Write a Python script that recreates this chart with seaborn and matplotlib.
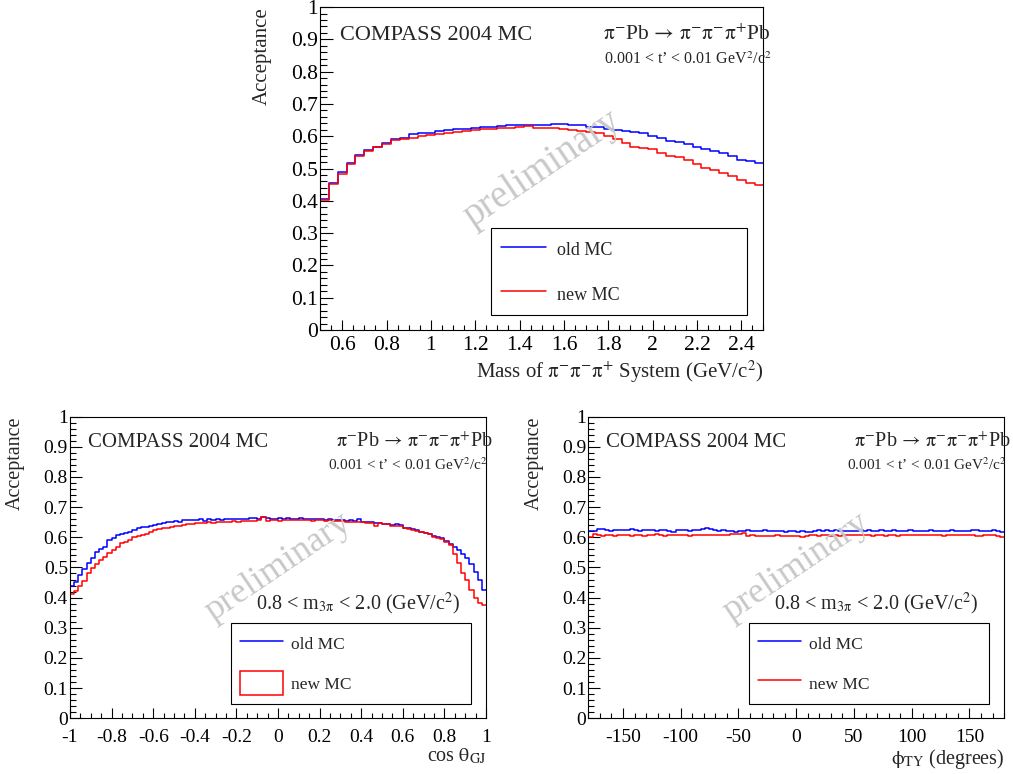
import numpy as np
import pandas as pd
import matplotlib
matplotlib.use("Agg")
import matplotlib.pyplot as plt
import seaborn as sns
from matplotlib.ticker import MultipleLocator, FuncFormatter
from matplotlib.lines import Line2D
from matplotlib.patches import Patch

# ---- data (acceptance per bin) ----
mass_edges = np.linspace(0.5, 2.5, 51)
mass_old = [0.406, 0.456, 0.490, 0.518, 0.542, 0.557, 0.568, 0.578, 0.592, 0.595,
            0.606, 0.609, 0.610, 0.615, 0.618, 0.621, 0.623, 0.627, 0.630, 0.630,
            0.632, 0.634, 0.634, 0.635, 0.635, 0.636, 0.637, 0.637, 0.636, 0.634,
            0.630, 0.630, 0.621, 0.619, 0.616, 0.612, 0.609, 0.601, 0.596, 0.586,
            0.583, 0.576, 0.568, 0.560, 0.555, 0.547, 0.540, 0.526, 0.523, 0.516]
mass_new = [0.403, 0.451, 0.483, 0.514, 0.540, 0.554, 0.567, 0.577, 0.588, 0.591,
            0.596, 0.601, 0.604, 0.607, 0.610, 0.613, 0.615, 0.618, 0.621, 0.623,
            0.625, 0.627, 0.630, 0.632, 0.627, 0.627, 0.625, 0.623, 0.619, 0.616,
            0.612, 0.609, 0.601, 0.590, 0.580, 0.568, 0.564, 0.559, 0.547, 0.539,
            0.535, 0.526, 0.514, 0.501, 0.495, 0.487, 0.477, 0.466, 0.456, 0.449]

cos_edges = np.linspace(-1.0, 1.0, 101)
cos_old = [0.439, 0.451, 0.475, 0.495, 0.516, 0.533, 0.552, 0.560, 0.569, 0.591,
           0.597, 0.608, 0.610, 0.613, 0.617, 0.624, 0.630, 0.633, 0.633, 0.638,
           0.641, 0.643, 0.646, 0.652, 0.652, 0.654, 0.652, 0.656, 0.657, 0.656,
           0.657, 0.660, 0.655, 0.659, 0.657, 0.660, 0.658, 0.661, 0.660, 0.662,
           0.661, 0.662, 0.660, 0.663, 0.664, 0.662, 0.666, 0.663, 0.662, 0.660,
           0.663, 0.661, 0.665, 0.662, 0.661, 0.663, 0.660, 0.662, 0.661, 0.659,
           0.660, 0.658, 0.659, 0.657, 0.658, 0.656, 0.655, 0.657, 0.655, 0.660,
           0.652, 0.650, 0.650, 0.646, 0.646, 0.644, 0.644, 0.641, 0.645, 0.641,
           0.632, 0.630, 0.628, 0.624, 0.619, 0.615, 0.610, 0.605, 0.600, 0.597,
           0.588, 0.577, 0.569, 0.558, 0.544, 0.530, 0.511, 0.486, 0.459, 0.425]
cos_new = [0.411, 0.422, 0.440, 0.455, 0.481, 0.497, 0.511, 0.525, 0.536, 0.549,
           0.558, 0.569, 0.580, 0.586, 0.591, 0.600, 0.605, 0.608, 0.611, 0.617,
           0.624, 0.627, 0.630, 0.632, 0.635, 0.638, 0.639, 0.641, 0.643, 0.644,
           0.646, 0.648, 0.649, 0.650, 0.648, 0.651, 0.650, 0.652, 0.651, 0.653,
           0.652, 0.654, 0.653, 0.655, 0.654, 0.656, 0.668, 0.655, 0.656, 0.657,
           0.655, 0.657, 0.656, 0.658, 0.657, 0.656, 0.658, 0.657, 0.655, 0.657,
           0.656, 0.654, 0.656, 0.655, 0.653, 0.654, 0.652, 0.652, 0.650, 0.650,
           0.650, 0.646, 0.646, 0.639, 0.646, 0.644, 0.643, 0.639, 0.639, 0.637,
           0.630, 0.628, 0.624, 0.621, 0.619, 0.615, 0.610, 0.602, 0.597, 0.594,
           0.584, 0.573, 0.544, 0.514, 0.481, 0.459, 0.425, 0.398, 0.381, 0.376]

phi_edges = np.linspace(-180.0, 180.0, 101)
phi_old = [0.621, 0.621, 0.626, 0.626, 0.623, 0.621, 0.623, 0.625, 0.623, 0.623,
           0.626, 0.623, 0.621, 0.623, 0.625, 0.623, 0.621, 0.625, 0.623, 0.621,
           0.618, 0.623, 0.623, 0.625, 0.621, 0.623, 0.623, 0.626, 0.630, 0.628,
           0.623, 0.621, 0.623, 0.622, 0.620, 0.619, 0.621, 0.622, 0.623, 0.621,
           0.620, 0.622, 0.623, 0.621, 0.622, 0.620, 0.621, 0.619, 0.620, 0.621,
           0.619, 0.620, 0.618, 0.617, 0.621, 0.623, 0.622, 0.624, 0.622, 0.623,
           0.621, 0.620, 0.622, 0.621, 0.620, 0.623, 0.621, 0.623, 0.621, 0.622,
           0.624, 0.622, 0.621, 0.623, 0.621, 0.620, 0.622, 0.624, 0.621, 0.620,
           0.622, 0.621, 0.624, 0.622, 0.621, 0.620, 0.622, 0.624, 0.621, 0.620,
           0.622, 0.621, 0.623, 0.625, 0.622, 0.620, 0.621, 0.624, 0.622, 0.619]
phi_new = [0.601, 0.611, 0.609, 0.605, 0.606, 0.608, 0.605, 0.607, 0.609, 0.607,
           0.605, 0.608, 0.607, 0.604, 0.608, 0.607, 0.610, 0.607, 0.605, 0.607,
           0.609, 0.606, 0.608, 0.607, 0.605, 0.608, 0.607, 0.606, 0.608, 0.607,
           0.609, 0.607, 0.608, 0.609, 0.610, 0.611, 0.612, 0.613, 0.605, 0.606,
           0.604, 0.605, 0.604, 0.605, 0.604, 0.606, 0.605, 0.604, 0.603, 0.605,
           0.604, 0.602, 0.605, 0.606, 0.607, 0.605, 0.606, 0.607, 0.604, 0.606,
           0.605, 0.607, 0.606, 0.608, 0.606, 0.607, 0.608, 0.607, 0.604, 0.606,
           0.607, 0.605, 0.608, 0.607, 0.605, 0.606, 0.608, 0.607, 0.609, 0.608,
           0.607, 0.609, 0.607, 0.608, 0.606, 0.605, 0.607, 0.609, 0.608, 0.607,
           0.608, 0.606, 0.607, 0.605, 0.604, 0.606, 0.607, 0.606, 0.604, 0.600]

labels = ["old MC", "new MC"]
colors = ["#0000ff", "#ff0000"]

sns.set_theme(style="ticks")
plt.rcParams["font.family"] = ["Liberation Serif", "DejaVu Serif"]
plt.rcParams["mathtext.fontset"] = "stix"
plt.rcParams["axes.unicode_minus"] = False

fig = plt.figure(figsize=(10.13, 7.74), dpi=100)
ax_top = fig.add_axes([0.3159, 0.5736, 0.4378, 0.4173])
ax_cos = fig.add_axes([0.0691, 0.0720, 0.4107, 0.3897])
ax_phi = fig.add_axes([0.5808, 0.0720, 0.4104, 0.3897])

reaction = r"$\mathrm{\pi^{-}}$Pb$\,\rightarrow\,\mathrm{\pi^{-}\pi^{-}\pi^{+}}$Pb"
tcut = r"0.001 < t’ < 0.01 GeV$^{2}$/c$^{2}$"
mcut = r"0.8 < m$_{\mathrm{3\pi}}$ < 2.0 (GeV/c$^{2}$)"


def draw_hist(ax, edges, values, color):
    df = pd.DataFrame({"center": (edges[:-1] + edges[1:]) / 2,
                       "acc": np.asarray(values, dtype=float)})
    sns.histplot(data=df, x="center", weights="acc", bins=list(edges),
                 element="step", fill=False, color=color, linewidth=1.1, ax=ax)


def style_axes(ax, edges, xmajor, xminor, size, big):
    ax.set_xlim(edges[0], edges[-1])
    ax.set_ylim(0, 1)
    ax.xaxis.set_major_locator(MultipleLocator(xmajor))
    ax.xaxis.set_minor_locator(MultipleLocator(xminor))
    ax.yaxis.set_major_locator(MultipleLocator(0.1))
    ax.yaxis.set_minor_locator(MultipleLocator(0.02))
    fmt = FuncFormatter(lambda v, p: f"{round(v, 6) + 0:g}")
    ax.xaxis.set_major_formatter(fmt)
    ax.yaxis.set_major_formatter(fmt)
    ax.tick_params(which="both", direction="in", top=False, right=False,
                   color="black", width=0.8, labelsize=size, labelcolor="black")
    ax.tick_params(axis="y", which="major", length=9 if big else 8.5, pad=1.5)
    ax.tick_params(axis="y", which="minor", length=5 if big else 4.5)
    ax.tick_params(axis="x", which="major", length=7, pad=4 if big else 7.5)
    ax.tick_params(axis="x", which="minor", length=3.6)
    for s in ax.spines.values():
        s.set_color("black")
        s.set_linewidth(0.8)
    ax.text(0.5, 0.5, "preliminary", transform=ax.transAxes, rotation=34,
            rotation_mode="anchor", ha="center", va="center",
            fontsize=28 if big else 26, color="#c8c8c8", zorder=5)


# =========================
# TOP: mass
# =========================
draw_hist(ax_top, mass_edges, mass_old, colors[0])
draw_hist(ax_top, mass_edges, mass_new, colors[1])
style_axes(ax_top, mass_edges, 0.2, 0.05, 15.5, True)
ax_top.set_ylabel("Acceptance", fontsize=15, loc="top")
ax_top.yaxis.set_label_coords(-0.108, 1.0)
ax_top.set_xlabel(r"Mass of $\mathrm{\pi^{-}\pi^{-}\pi^{+}}$ System (GeV/c$^{2}$)",
                  fontsize=15, loc="right")
ax_top.xaxis.set_label_coords(1.0, -0.087)
ax_top.xaxis.label.set_va("top")
ax_top.text(0.045, 0.898, "COMPASS 2004 MC", transform=ax_top.transAxes,
            fontsize=16, va="baseline")
ax_top.text(0.638, 0.898, reaction, transform=ax_top.transAxes,
            fontsize=15.5, va="baseline")
ax_top.text(0.641, 0.8235, tcut, transform=ax_top.transAxes,
            fontsize=11.5, va="baseline")
handles = [Line2D([], [], color=colors[0], lw=1.1),
           Line2D([], [], color=colors[1], lw=1.1)]
leg = ax_top.legend(handles, labels, loc="upper left",
                    bbox_to_anchor=(0.3855, 0.0093, 0.5773, 0.3065),
                    mode="expand", borderaxespad=0, fontsize=13,
                    borderpad=0.55, handleheight=1.55, labelspacing=1.22,
                    handlelength=2.5, handletextpad=0.6, fancybox=False,
                    edgecolor="black", framealpha=1)
leg.get_frame().set_linewidth(0.8)

# =========================
# BOTTOM: cos theta and phi
# =========================
for ax, edges, old, new, xmaj, xmin, xlab in [
        (ax_cos, cos_edges, cos_old, cos_new, 0.2, 0.05,
         r"cos $\mathrm{\theta_{GJ}}$"),
        (ax_phi, phi_edges, phi_old, phi_new, 50, 10,
         r"$\mathrm{\phi_{TY}}$ (degrees)")]:
    draw_hist(ax, edges, old, colors[0])
    draw_hist(ax, edges, new, colors[1])
    style_axes(ax, edges, xmaj, xmin, 14, False)
    ax.set_ylabel("Acceptance", fontsize=14.5, loc="top")
    ax.yaxis.set_label_coords(-0.108, 1.0)
    ax.set_xlabel(xlab, fontsize=14.5, loc="right")
    ax.xaxis.set_label_coords(1.0, -0.095)
    ax.xaxis.label.set_va("top")
    ax.text(0.043, 0.9005, "COMPASS 2004 MC", transform=ax.transAxes,
            fontsize=15, va="baseline")
    ax.text(0.64, 0.9005, reaction, transform=ax.transAxes,
            fontsize=14.5, va="baseline")
    ax.text(0.621, 0.823, tcut, transform=ax.transAxes,
            fontsize=11, va="baseline")
    ax.text(0.447, 0.359, mcut, transform=ax.transAxes,
            fontsize=14.5, va="baseline")
    if ax is ax_cos:
        new_handle = Patch(facecolor="none", edgecolor=colors[1], linewidth=1.1)
    else:
        new_handle = Line2D([], [], color=colors[1], lw=1.1)
    leg = ax.legend([Line2D([], [], color=colors[0], lw=1.1), new_handle], labels,
                    loc="upper left", bbox_to_anchor=(0.387, 0.0076, 0.576, 0.3094),
                    mode="expand", borderaxespad=0, fontsize=12.5,
                    borderpad=0.52, handleheight=1.76, labelspacing=0.88,
                    handlelength=2.45, handletextpad=0.5, fancybox=False,
                    edgecolor="black", framealpha=1)
    leg.get_frame().set_linewidth(0.8)

fig.savefig("out.png", dpi=100)
